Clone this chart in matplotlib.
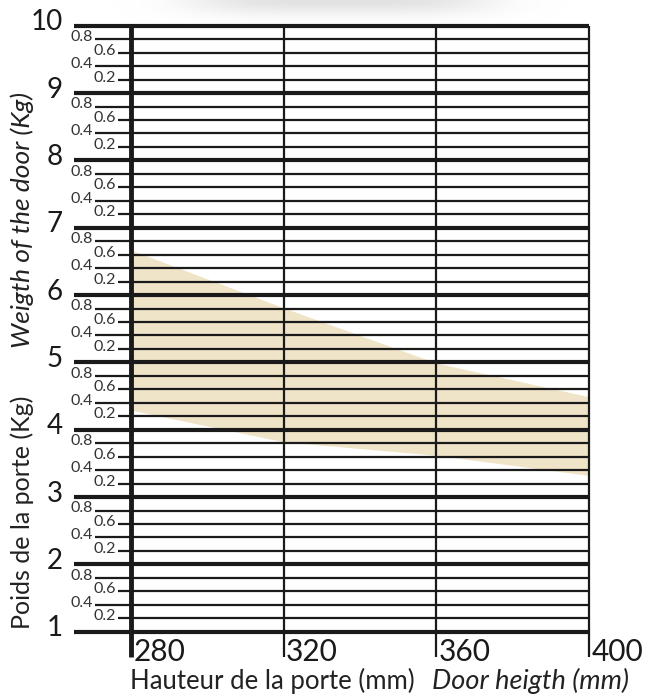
import numpy as np
import matplotlib
matplotlib.use("Agg")
from matplotlib import pyplot as plt

# door height (mm) and weight band (kg)
HEIGHTS = [280, 320, 360, 400]
WEIGHT_MAX = [6.67, 5.81, 4.99, 4.49]
WEIGHT_MIN = [4.29, 3.82, 3.62, 3.32]

MAJOR = list(range(1, 11))
MINOR_LABELS = ["0.2", "0.4", "0.6", "0.8"]
X_TICKS = [280, 320, 360, 400]

BAND = "#f0e4c8"
INK = "#1a1a1a"
FONT = "Lato"

W, H = 645, 694
fig = plt.figure(figsize=(W / 100, H / 100), dpi=100)

# soft grey shadow along the top edge
shade = fig.add_axes([0, 1 - 30 / H, 1, 30 / H], zorder=0)
gx = np.arange(W)
gy = np.arange(30)
amt = np.exp(-((gx[None, :] - 340) / 150.0) ** 4) * np.exp(-(gy[:, None] / 14.0) ** 2)
rgba = np.ones((30, W, 4))
rgba[..., :3] = 0.86
rgba[..., 3] = amt * 0.8
shade.imshow(rgba, aspect="auto", interpolation="bilinear")
shade.axis("off")

left, right = 131 / W, 589 / W
bottom, top = 1 - 631.7 / H, 1 - 25.7 / H
ax = fig.add_axes([left, bottom, right - left, top - bottom], zorder=1)
ax.set_xlim(280, 400)
ax.set_ylim(1, 10)
ax.axis("off")

px = 40 / 152.5  # mm per pixel

ax.fill_between(HEIGHTS, WEIGHT_MIN, WEIGHT_MAX, color=BAND, lw=0, zorder=1)

# horizontal lines
for v in MAJOR:
    ax.hlines(v, 280 - 57 * px, 400, color=INK, lw=3.0, zorder=3, clip_on=False)
    ax.text(280 - 68 * px, v + 0.05, str(v), ha="right", va="center",
            fontsize=20, family=FONT, color=INK)
    if v == 10:
        continue
    for i, lab in enumerate(MINOR_LABELS):
        y = v + 0.2 * (i + 1)
        if lab in ("0.8", "0.4"):
            x0, xt = 280 - 36 * px, 280 - 38 * px
        else:
            x0, xt = 280 - 13 * px, 280 - 15 * px
        ax.hlines(y, x0, 400, color=INK, lw=1.6, zorder=3, clip_on=False)
        ax.text(xt, y + 0.03, lab, ha="right", va="center",
                fontsize=11.5, family=FONT, color="#333333")

# vertical lines
ybot = 1 - 25 / 67.3
for x in X_TICKS:
    lw = 3.5 if x == 280 else 1.6
    ax.vlines(x, ybot, 10, color=INK, lw=lw, zorder=4, clip_on=False)
    ax.text(x + 2.5 * px, 1 - 6 / 67.3, str(x), ha="left", va="top",
            fontsize=21.5, family=FONT, color=INK)

# axis titles
fig.text(272 / W, 1 - 681 / H, "Hauteur de la porte (mm)", ha="center", va="center",
         fontsize=18.5, family=FONT, color="#222222")
fig.text(530 / W, 1 - 681 / H, "Door heigth (mm)", ha="center", va="center",
         fontsize=19.5, family=FONT, style="italic", color="#222222")
fig.text(22 / W, 1 - 512 / H, "Poids de la porte (Kg)", ha="center", va="center",
         rotation=90, fontsize=18, family=FONT, color="#222222")
fig.text(22 / W, 1 - 220 / H, "Weigth of the door (Kg)", ha="center", va="center",
         rotation=90, fontsize=19, family=FONT, style="italic", color="#222222")

fig.savefig("out.png", dpi=100)
